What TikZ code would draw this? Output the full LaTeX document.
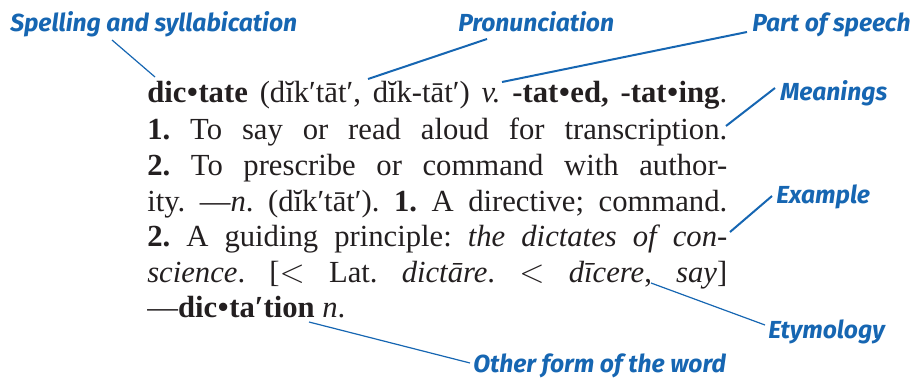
\documentclass[tikz,border=0pt]{standalone}
\usepackage{fontspec}
\setmainfont{Liberation Serif}
\newfontfamily\labfont{Fira Sans}
\definecolor{labblue}{RGB}{22,102,178}
\definecolor{ink}{RGB}{35,31,32}
\newcommand\bul{\kern0.5pt•\kern0.5pt}
\newcommand\gap{\hspace{2.5pt plus 1fil}}
\newcommand\fullline[1]{\makebox[435pt][s]{#1}}

\begin{document}
\frenchspacing
\begin{tikzpicture}[x=0.75pt,y=-0.75pt,
  entry/.style={anchor=base west, inner sep=0pt, text=ink,
    font=\fontsize{23}{27}\selectfont},
  tag/.style={anchor=base west, inner sep=0pt, text=labblue,
    font=\labfont\bfseries\itshape\fontsize{18.5}{22}\selectfont},
  leadthick/.style={draw=labblue, line width=1.5pt},
  leadthin/.style={draw=labblue, line width=0.9pt}]

\useasboundingbox (0,0) rectangle (917,385);

% dictionary entry, one justified line per node
\node[entry] (l1) at (147,103) {\fullline{\textbf{dic\bul tate}\gap(dĭk′tāt′,\gap dĭk-tāt′)\gap\textit{v.}\gap\textbf{-tat\bul ed,\gap -tat\bul ing}.}};
\node[entry] (l2) at (147,139) {\fullline{\textbf{1.} To say or read aloud for transcription.}};
\node[entry] (l3) at (147,175) {\fullline{\textbf{2.} To prescribe or command with author-}};
\node[entry] (l4) at (147,211) {\fullline{ity. —\textit{n}. (dĭk′tāt′). \textbf{1.} A directive; command.}};
\node[entry] (l5) at (147,246) {\fullline{\textbf{2.} A guiding principle: \textit{the dictates of con-}}};
\node[entry] (l6) at (147,282) {\fullline{\textit{science}. [$<$ Lat. \textit{dictāre}. $<$ \textit{dīcere}, \textit{say}]}};
\node[entry] (l7) at (147,317) {—\textbf{dic\bul ta′tion} \textit{n}.};

% callout labels
\node[tag] (spell) at (10,32)  {Spelling and syllabication};
\node[tag] (pron)  at (458,32) {Pronunciation};
\node[tag] (pos)   at (752,32) {Part of speech};
\node[tag] (mean)  at (780,100) {Meanings};
\node[tag] (ex)    at (776,203) {Example};
\node[tag] (ety)   at (768,338) {Etymology};
\node[tag] (other) at (473,372) {Other form of the word};

% leader line ends
\coordinate (spellA) at (112,40);  \coordinate (spellB) at (155,77);
\coordinate (pronA)  at (487,39);  \coordinate (pronB)  at (368,79);
\coordinate (posA)   at (747,32);  \coordinate (posB)   at (502,82);
\coordinate (meanA)  at (775,88);  \coordinate (meanB)  at (726,126);
\coordinate (exA)    at (772,196); \coordinate (exB)    at (730,232);
\coordinate (etyA)   at (765,325); \coordinate (etyB)   at (651,283);
\coordinate (othA)   at (470,363); \coordinate (othB)   at (309,322);

\draw[leadthin]  (spellA) -- (spellB);
\draw[leadthick] (pronA) -- (pronB);
\draw[leadthick] (posA) -- (posB);
\draw[leadthick] (meanA) -- (meanB);
\draw[leadthick] (exA) -- (exB);
\draw[leadthin]  (etyA) -- (etyB);
\draw[leadthin]  (othA) -- (othB);
\end{tikzpicture}
\end{document}
